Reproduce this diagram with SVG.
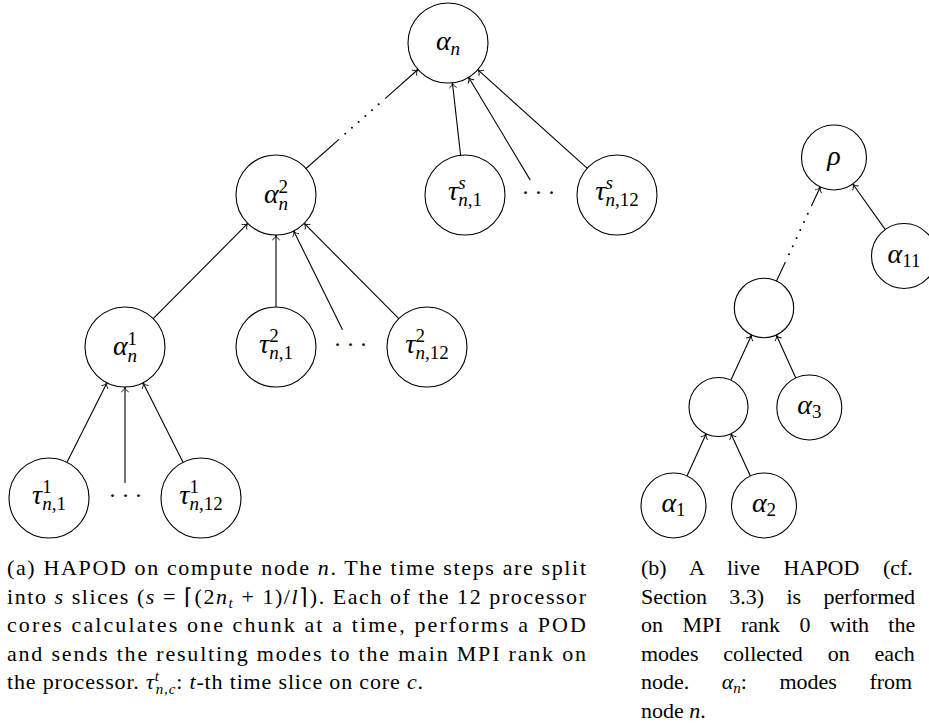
<svg xmlns="http://www.w3.org/2000/svg" width="929" height="726" viewBox="0 0 929 726" font-family="Liberation Serif, Times New Roman, serif">
<style>
.nd circle{fill:#fff;stroke:#000;stroke-width:1.1}
.e{stroke:#000;stroke-width:1.1;fill:none}
.a{marker-end:url(#arr)}
.dt{stroke:#000;stroke-width:2;stroke-linecap:round;stroke-dasharray:0 8.9;fill:none}
</style>
<defs>
<marker id="arr" viewBox="-6 -5 7 10" refX="0" refY="0" markerWidth="7" markerHeight="10" orient="auto" markerUnits="userSpaceOnUse">
<path d="M-4.8,-3.4 C-3.8,-1.5 -1.6,-0.3 0,0 C-1.6,0.3 -3.8,1.5 -4.8,3.4" fill="none" stroke="#000" stroke-width="0.9" stroke-linecap="round"/>
</marker>
</defs>

<g id="connectors">
<line class="e" x1="306" y1="168.5" x2="339" y2="139.4"/>
<line class="dt" x1="345.3" y1="133.7" x2="378.75" y2="104.2"/>
<line class="e a" x1="385.1" y1="98.6" x2="418" y2="69.5"/>
<line class="e a" x1="460.6" y1="155.2" x2="452.4" y2="82.8"/>
<line class="e a" x1="530.3" y1="180.1" x2="468.6" y2="77.3"/>
<line class="e a" x1="587.3" y1="168.3" x2="477.7" y2="69.7"/>
<line class="e a" x1="153.2" y1="318.6" x2="247.8" y2="223.4"/>
<line class="e a" x1="276" y1="307" x2="276" y2="235"/>
<line class="e a" x1="342.5" y1="329.8" x2="293.7" y2="230.9"/>
<line class="e a" x1="398.8" y1="318.6" x2="304.2" y2="223.4"/>
<line class="e a" x1="67" y1="462.3" x2="107" y2="382.7"/>
<line class="e a" x1="125" y1="483" x2="125" y2="387"/>
<line class="e a" x1="183" y1="462.3" x2="143" y2="382.7"/>
<line class="e a" x1="885.5" y1="229.9" x2="852.8" y2="184"/>
<line class="e" x1="776.5" y1="281.1" x2="785.4" y2="262.1"/>
<line class="dt" x1="789" y1="254.2" x2="807.8" y2="213.85"/>
<line class="e a" x1="811.4" y1="206.1" x2="820.3" y2="187"/>
<line class="e a" x1="730.8" y1="380.2" x2="751.6" y2="335"/>
<line class="e a" x1="795.8" y1="377.9" x2="776.3" y2="335"/>
<line class="e a" x1="687" y1="475.9" x2="706.2" y2="433.8"/>
<line class="e a" x1="750.4" y1="476" x2="730.9" y2="433.8"/>
</g>

<g id="nodes" font-size="28" text-anchor="middle" fill="#000">
<g id="alpha_n" class="nd"><circle cx="448" cy="43" r="40"/>
<text x="448" y="50"><tspan font-style="italic">α</tspan><tspan font-size="19" font-style="italic" dy="5">n</tspan></text></g>
<g id="alpha_n2" class="nd"><circle cx="276" cy="195" r="40"/>
<text x="276" y="203"><tspan font-style="italic">α</tspan><tspan font-size="19" dy="-10">2</tspan><tspan font-size="19" font-style="italic" dx="-9.5" dy="17">n</tspan></text></g>
<g id="tau_s_1" class="nd"><circle cx="465" cy="195" r="40"/>
<text x="465" y="200"><tspan font-style="italic">τ</tspan><tspan font-size="19" font-style="italic" dy="-11">s</tspan><tspan font-size="19" dx="-7.4" dy="17"><tspan font-style="italic">n</tspan>,1</tspan></text></g>
<g id="dots_s"><text x="541" y="200" font-size="24" letter-spacing="5">···</text></g>
<g id="tau_s_12" class="nd"><circle cx="617" cy="195" r="40"/>
<text x="617" y="200"><tspan font-style="italic">τ</tspan><tspan font-size="19" font-style="italic" dy="-11">s</tspan><tspan font-size="19" dx="-7.4" dy="17"><tspan font-style="italic">n</tspan>,12</tspan></text></g>

<g id="alpha_n1" class="nd"><circle cx="125" cy="347" r="40"/>
<text x="125" y="355"><tspan font-style="italic">α</tspan><tspan font-size="19" dy="-10">1</tspan><tspan font-size="19" font-style="italic" dx="-9.5" dy="17">n</tspan></text></g>
<g id="tau_2_1" class="nd"><circle cx="276" cy="347" r="40"/>
<text x="276" y="353"><tspan font-style="italic">τ</tspan><tspan font-size="19" dy="-11">2</tspan><tspan font-size="19" dx="-9.5" dy="17"><tspan font-style="italic">n</tspan>,1</tspan></text></g>
<g id="dots_2"><text x="353" y="352" font-size="24" letter-spacing="5">···</text></g>
<g id="tau_2_12" class="nd"><circle cx="427" cy="347" r="40"/>
<text x="427" y="353"><tspan font-style="italic">τ</tspan><tspan font-size="19" dy="-11">2</tspan><tspan font-size="19" dx="-9.5" dy="17"><tspan font-style="italic">n</tspan>,12</tspan></text></g>

<g id="tau_1_1" class="nd"><circle cx="49" cy="498" r="40"/>
<text x="49" y="504"><tspan font-style="italic">τ</tspan><tspan font-size="19" dy="-11">1</tspan><tspan font-size="19" dx="-9.5" dy="17"><tspan font-style="italic">n</tspan>,1</tspan></text></g>
<g id="dots_1"><text x="128" y="503" font-size="24" letter-spacing="5">···</text></g>
<g id="tau_1_12" class="nd"><circle cx="201" cy="498" r="40"/>
<text x="201" y="504"><tspan font-style="italic">τ</tspan><tspan font-size="19" dy="-11">1</tspan><tspan font-size="19" dx="-9.5" dy="17"><tspan font-style="italic">n</tspan>,12</tspan></text></g>

<g id="rho" class="nd"><circle cx="834" cy="157.5" r="32.5"/>
<text x="834" y="165" font-style="italic">ρ</text></g>
<g id="alpha_11" class="nd"><circle cx="904" cy="256" r="32.5"/>
<text x="904" y="263"><tspan font-style="italic">α</tspan><tspan font-size="19" dy="4">11</tspan></text></g>
<g id="mid_upper" class="nd"><circle cx="764" cy="308" r="29.7"/></g>
<g id="mid_lower" class="nd"><circle cx="718.5" cy="407" r="29.5"/></g>
<g id="alpha_3" class="nd"><circle cx="809.3" cy="407.5" r="32.5"/>
<text x="809.3" y="414"><tspan font-style="italic">α</tspan><tspan font-size="19" dy="4">3</tspan></text></g>
<g id="alpha_1" class="nd"><circle cx="673.5" cy="505.5" r="32.5"/>
<text x="673.5" y="512"><tspan font-style="italic">α</tspan><tspan font-size="19" dy="4">1</tspan></text></g>
<g id="alpha_2" class="nd"><circle cx="764" cy="505.5" r="32.5"/>
<text x="764" y="512"><tspan font-style="italic">α</tspan><tspan font-size="19" dy="4">2</tspan></text></g>
</g>

<g id="caption_a" font-size="22" fill="#000">
<text x="7" y="575" textLength="579" lengthAdjust="spacing">(a) HAPOD on compute node <tspan font-style="italic">n</tspan>. The time steps are split</text>
<text x="7" y="603.6" textLength="579" lengthAdjust="spacing">into <tspan font-style="italic">s</tspan> slices (<tspan font-style="italic">s</tspan> = ⌈(2<tspan font-style="italic">n</tspan><tspan font-style="italic" font-size="15" dy="4">t</tspan><tspan dy="-4"> + 1)/</tspan><tspan font-style="italic">l</tspan>⌉). Each of the 12 processor</text>
<text x="7" y="632.2" textLength="579" lengthAdjust="spacing">cores calculates one chunk at a time, performs a POD</text>
<text x="7" y="660.8" textLength="579" lengthAdjust="spacing">and sends the resulting modes to the main MPI rank on</text>
<text x="7" y="689.4" textLength="416" lengthAdjust="spacing">the processor. <tspan font-style="italic">τ</tspan><tspan font-style="italic" font-size="15" dy="-8">t</tspan><tspan font-size="15" dx="-4" dy="13"><tspan font-style="italic">n</tspan>,<tspan font-style="italic">c</tspan></tspan><tspan dy="-5">: </tspan><tspan font-style="italic">t</tspan>-th time slice on core <tspan font-style="italic">c</tspan>.</text>
</g>
<g id="caption_b" font-size="22" fill="#000">
<text x="641" y="575" word-spacing="18">(b) A live HAPOD (cf.</text>
<text x="641" y="603.6" word-spacing="16.8">Section 3.3) is performed</text>
<text x="641" y="632.2" word-spacing="13.9">on MPI rank 0 with the</text>
<text x="641" y="660.8" word-spacing="19.4">modes collected on each</text>
<text x="641" y="689.4" word-spacing="27">node. <tspan font-style="italic">α</tspan><tspan font-style="italic" font-size="15" dy="4">n</tspan><tspan dy="-4">: modes from</tspan></text>
<text x="641" y="718">node <tspan font-style="italic">n</tspan>.</text>
</g>
</svg>
